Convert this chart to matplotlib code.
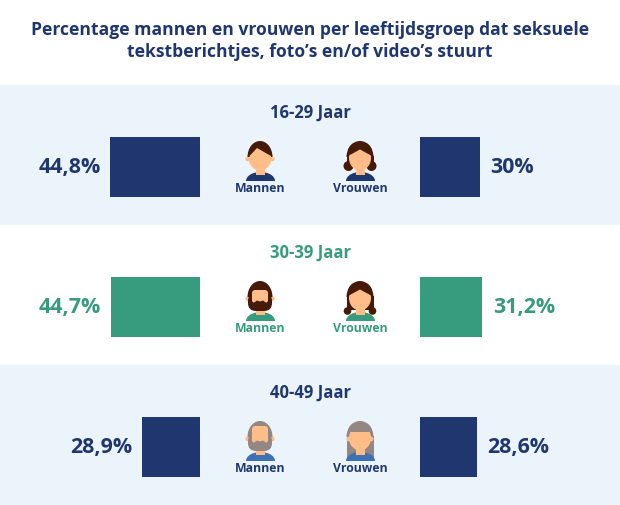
import matplotlib
matplotlib.use("Agg")
import matplotlib.pyplot as plt
from matplotlib.patches import Circle, Ellipse, Rectangle, Polygon, FancyBboxPatch

W, H = 620, 505
title = "Percentage mannen en vrouwen per leeftijdsgroep dat seksuele\ntekstberichtjes, foto’s en/of video’s stuurt"
age_groups = ["16-29 Jaar", "30-39 Jaar", "40-49 Jaar"]
men_values = [44.8, 44.7, 28.9]
women_values = [30.0, 31.2, 28.6]
men_labels = ["44,8%", "44,7%", "28,9%"]
women_labels = ["30%", "31,2%", "28,6%"]
men_name = "Mannen"
women_name = "Vrouwen"

NAVY = "#20366F"
GREEN = "#379B7D"
PALE = "#EAF4FA"
SKIN = "#FFBD8A"
DARK_HAIR = "#451A08"
GREY_HAIR = "#948682"
row_colors = [NAVY, GREEN, NAVY]
shirt_colors = [NAVY, GREEN, "#3F70B5"]
FONT = "Open Sans"

fig = plt.figure(figsize=(W / 100, H / 100), dpi=100, facecolor="white")
bg = fig.add_axes([0, 0, 1, 1])
bg.set_xlim(0, W)
bg.set_ylim(H, 0)
bg.axis("off")


def px_axes(x0, x1, y0=85, y1=505):
    return fig.add_axes([x0 / W, 1 - y1 / H, (x1 - x0) / W, (y1 - y0) / H])


# Both bar panels share a scale of 2 px per percentage point;
# each row is 140 px tall with its bar centred 82 px below the row top
left_ax = px_axes(0, 200)
right_ax = px_axes(420, 620)
for ax, lim in ((left_ax, (100, 0)), (right_ax, (0, 100))):
    ax.set_xlim(*lim)
    ax.set_ylim(3 - 82 / 140, -82 / 140)
    ax.axis("off")
    ax.patch.set_alpha(0)

positions = list(range(len(age_groups)))
left_ax.barh(positions, men_values, height=60 / 140, color=row_colors)
right_ax.barh(positions, women_values, height=60 / 140, color=row_colors)

for i in positions:
    c = row_colors[i]
    top = 85 + 140 * i
    if i != 1:
        bg.add_patch(Rectangle((0, top), W, 140, color=PALE, lw=0, zorder=0))
    bg.text(310, top + 27.5, age_groups[i], ha="center", va="center", color=c,
            fontsize=12, fontweight="bold", family=FONT)
    left_ax.annotate(men_labels[i], (men_values[i], i), xytext=(-7, -0.5),
                     textcoords="offset points", ha="right", va="center", color=c,
                     fontsize=15.4, fontweight="bold", family=FONT)
    right_ax.annotate(women_labels[i], (women_values[i], i), xytext=(7.5, -0.5),
                      textcoords="offset points", ha="left", va="center", color=c,
                      fontsize=15.4, fontweight="bold", family=FONT)
    bg.text(260, top + 103.5, men_name, ha="center", va="center", color=c,
            fontsize=8.8, fontweight="bold", family=FONT)
    bg.text(360, top + 103.5, women_name, ha="center", va="center", color=c,
            fontsize=8.8, fontweight="bold", family=FONT)


def add(patch):
    bg.add_patch(patch)
    return patch


def dome_outline(cx, top, width):
    return Ellipse((cx, top + 72), width, 32, transform=bg.transData)


def dome(cx, top, width, hair, z):
    # Upper half of the hair: an ellipse cut off at eye level
    e = add(Ellipse((cx, top + 72), width, 32, color=hair, lw=0, zorder=z))
    e.set_clip_path(Rectangle((cx - 20, top + 50), 40, 22, transform=bg.transData))


def shoulders(cx, top, shirt):
    e = add(Ellipse((cx + 0.5, top + 96), 29, 18, color=shirt, lw=0, zorder=3))
    e.set_clip_path(Rectangle((cx - 20, top + 80), 40, 16, transform=bg.transData))
    add(Rectangle((cx - 4.5, top + 80), 9, 10, color=SKIN, lw=0, zorder=3.2))


def man(cx, top, shirt, hair, beard, forehead):
    shoulders(cx, top, shirt)
    for s in (-1, 1):
        add(Circle((cx + s * 12.5, top + 74), 2.2, color=SKIN, lw=0, zorder=3.5))
    add(Ellipse((cx, top + 73), 23, 25, color=SKIN, lw=0, zorder=3.6))
    dome(cx, top, 25, hair, 4)
    if beard:
        add(FancyBboxPatch((cx - 12, top + 68), 24, 18, boxstyle="round,pad=0,rounding_size=8",
                           color=hair, lw=0, zorder=4))
        add(FancyBboxPatch((cx - 8, top + forehead), 16, 78 - forehead,
                           boxstyle="round,pad=0,rounding_size=3", color=SKIN, lw=0, zorder=4.3))
        add(Polygon([(cx - 8, top + 79), (cx - 3, top + 75.5), (cx, top + 76.5), (cx + 3, top + 75.5),
                     (cx + 8, top + 79)], closed=True, color=hair, lw=0, zorder=4.4))
    else:
        add(Polygon([(cx - 10.5, top + 71), (cx - 3, top + 63), (cx + 11, top + 71), (cx + 11, top + 76),
                     (cx - 10.5, top + 76)], closed=True, color=SKIN, lw=0, zorder=4.3))


def woman(cx, top, shirt, hair, style):
    add(Rectangle((cx - 13.5, top + 71), 27, {"bun": 6, "long": 14, "straight": 22}[style],
                  color=hair, lw=0, zorder=2))
    if style == "bun":
        for s in (-1, 1):
            add(Circle((cx + s * 11.5, top + 81), 5, color=hair, lw=0, zorder=2))
    elif style == "long":
        for s in (-1, 1):
            add(Circle((cx + s * 12.5, top + 86), 3.8, color=hair, lw=0, zorder=2))
    shoulders(cx, top, shirt)
    dome(cx, top, 27, hair, 3.3)
    if style == "straight":
        for s in (-1, 1):
            add(Circle((cx + s * 11, top + 74), 2.5, color=SKIN, lw=0, zorder=3.5))
    add(Ellipse((cx, top + 73), 22, 25, color=SKIN, lw=0, zorder=3.6))
    # Fringe is trimmed to the hair outline so no corners poke out
    if style == "straight":
        fringe = add(Rectangle((cx - 12, top + 58), 24, 9, color=hair, lw=0, zorder=4.2))
    else:
        fringe = add(Polygon([(cx - 12, top + 71), (cx, top + 64.5), (cx + 12, top + 71),
                              (cx + 12, top + 58), (cx - 12, top + 58)],
                             closed=True, color=hair, lw=0, zorder=4.2))
    fringe.set_clip_path(dome_outline(cx, top, 27))


man(260, 85, shirt_colors[0], DARK_HAIR, False, 0)
woman(360, 85, shirt_colors[0], DARK_HAIR, "bun")
man(260, 225, shirt_colors[1], DARK_HAIR, True, 65)
woman(360, 225, shirt_colors[1], DARK_HAIR, "long")
man(260, 365, shirt_colors[2], GREY_HAIR, True, 61)
woman(360, 365, shirt_colors[2], GREY_HAIR, "straight")

bg.text(310, 41, title, ha="center", va="center", color=NAVY, fontsize=12.6,
        fontweight="bold", family=FONT, linespacing=1.33)

fig.savefig("out.png", dpi=100, facecolor="white")
